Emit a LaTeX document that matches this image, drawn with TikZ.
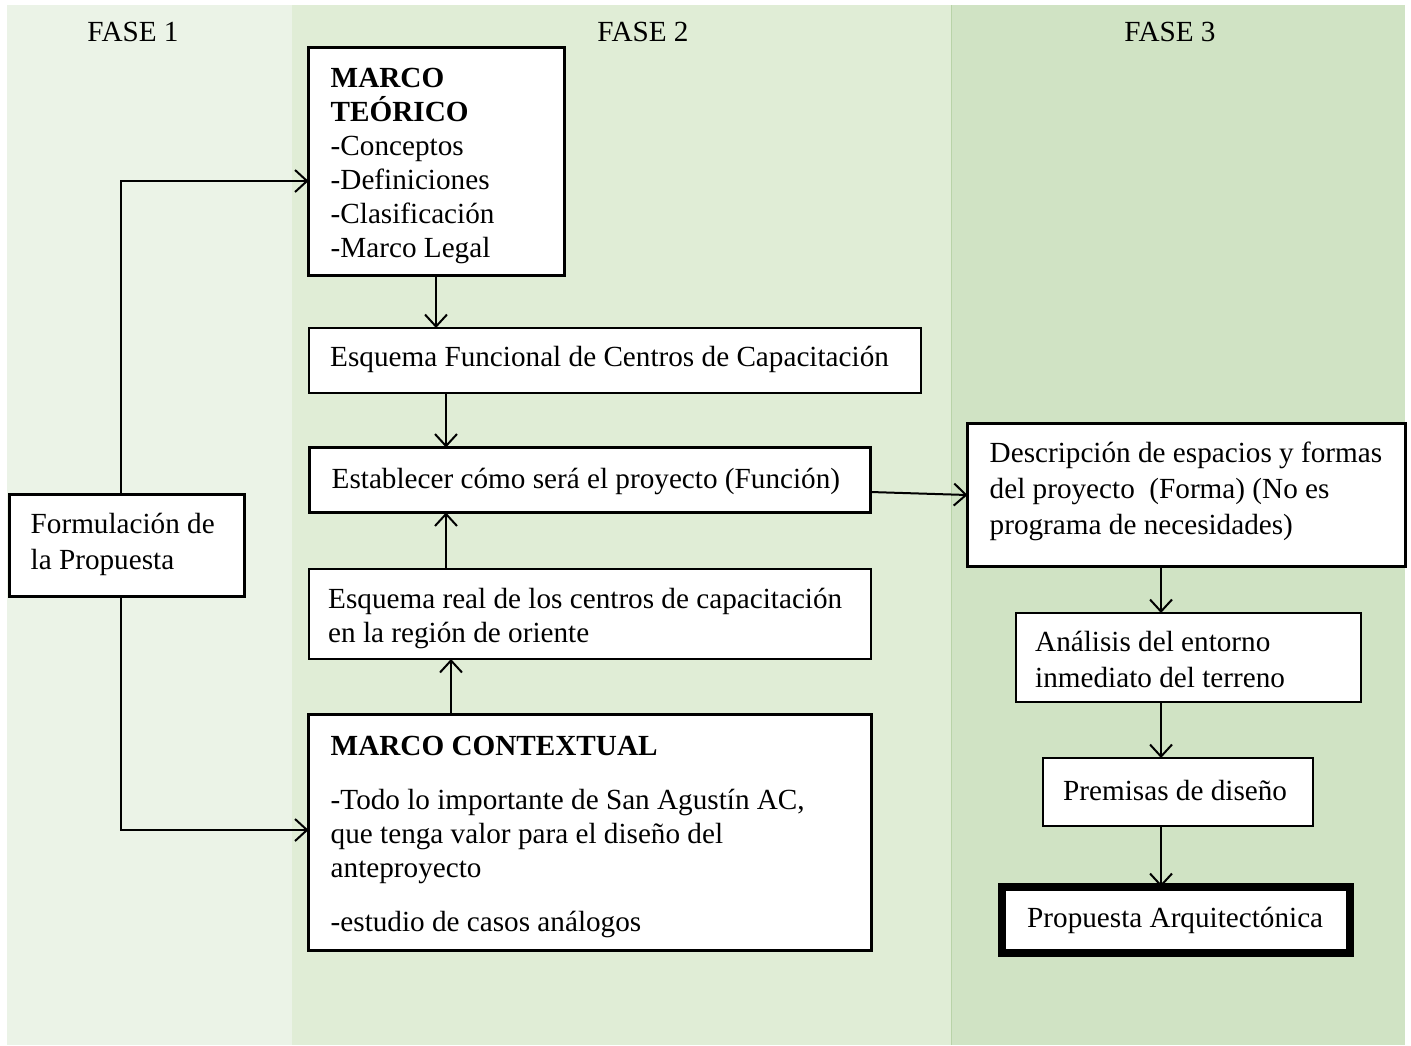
\documentclass[tikz,border=0pt]{standalone}
\usepackage{fontspec}
\setmainfont{Liberation Serif}
\usetikzlibrary{arrows.meta}
\definecolor{phaseA}{RGB}{235,243,231}
\definecolor{phaseB}{RGB}{224,237,214}
\definecolor{phaseC}{RGB}{208,227,196}
\definecolor{phaseEdge}{RGB}{184,211,168}
\begin{document}
\begin{tikzpicture}[x=1pt,y=-1pt,
  frame/.style={draw=black, fill=white, outer sep=0pt, inner sep=0pt},
  thinbox/.style={frame, line width=1.5pt},
  boldbox/.style={frame, line width=3pt},
  heavybox/.style={frame, line width=7.5pt},
  txt/.style={font=\fontsize{29.2}{34}\selectfont, inner sep=0pt, anchor=west, align=left},
  loose/.style={font=\fontsize{29.2}{36}\selectfont},
  phase/.style={font=\fontsize{29.2}{34}\selectfont, inner sep=0pt},
  arr/.style={line width=2pt, -{Straight Barb[length=12pt,width=22pt,line width=2pt]}}
]
\useasboundingbox (0,0) rectangle (1411,1045);

% phase columns
\fill[phaseA] (7,5) rectangle (292,1045);
\fill[phaseB] (292,5) rectangle (951,1045);
\fill[phaseC] (951,5) rectangle (1405,1045);
\draw[phaseEdge, line width=1pt] (951.5,5) -- (951.5,1045);

\node[phase] (f1) at (133,32) {FASE 1};
\node[phase] (f2) at (643,32) {FASE 2};
\node[phase] (f3) at (1170,32) {FASE 3};

% boxes
\node[boldbox, minimum width=256pt, minimum height=228pt] (mt) at (436.5,161.5) {};
\node[thinbox, minimum width=612pt, minimum height=65pt] (ef) at (615,360.5) {};
\node[boldbox, minimum width=561pt, minimum height=65pt] (est) at (590,480) {};
\node[thinbox, minimum width=562pt, minimum height=90pt] (er) at (590,614) {};
\node[boldbox, minimum width=563pt, minimum height=236pt] (mc) at (590,832.5) {};
\node[boldbox, minimum width=235pt, minimum height=102pt] (form) at (127,545.5) {};
\node[boldbox, minimum width=438pt, minimum height=143pt] (desc) at (1186.5,495) {};
\node[thinbox, minimum width=345pt, minimum height=89pt] (an) at (1188.5,657.5) {};
\node[thinbox, minimum width=270pt, minimum height=68pt] (pr) at (1178,792) {};
\node[heavybox, minimum width=348pt, minimum height=66pt] (prop) at (1176,920) {};

% texts
\node[txt] (mt-t) at ([xshift=22pt,yshift=-4pt]mt.west) {\textbf{MARCO}\\\textbf{TEÓRICO}\\-Conceptos\\-Definiciones\\-Clasificación\\-Marco Legal};
\node[txt] (ef-t) at ([xshift=21pt,yshift=1pt]ef.west) {Esquema Funcional de Centros de Capacitación};
\node[txt] (est-t) at ([xshift=22pt,yshift=-1pt]est.west) {Establecer cómo será el proyecto (Función)};
\node[txt] (er-t) at ([xshift=19pt,yshift=-4pt]er.west) {Esquema real de los centros de capacitación\\en la región de oriente};
\node[txt] (mc-t) at ([xshift=22pt,yshift=-4pt]mc.west) {\textbf{MARCO CONTEXTUAL}\\[20pt]-Todo lo importante de San Agustín AC,\\que tenga valor para el diseño del\\anteproyecto\\[20pt]-estudio de casos análogos};
\node[txt, loose] (form-t) at ([xshift=21pt,yshift=1pt]form.west) {Formulación de\\la Propuesta};
\node[txt, loose] (desc-t) at ([xshift=22pt,yshift=4pt]desc.west) {Descripción de espacios y formas\\del proyecto~~(Forma) (No es\\programa de necesidades)};
\node[txt, loose] (an-t) at ([xshift=19pt,yshift=-2pt]an.west) {Análisis del entorno\\inmediato del terreno};
\node[txt] (pr-t) at ([xshift=20pt,yshift=2pt]pr.west) {Premisas de diseño};
\node[txt] (prop-t) at ([xshift=25pt,yshift=0pt]prop.west) {Propuesta Arquitectónica};

% connectors
\coordinate (k1) at (121,181);
\coordinate (k2) at (121,830);
\coordinate (k3) at (436,0);
\coordinate (k4) at (446,0);
\coordinate (k5) at (451,0);
\coordinate (k6) at (1161,0);
\draw[arr] (form.north -| k1) |- (mt.west |- k1);
\draw[arr] (form.south -| k2) |- (mc.west |- k2);
\draw[arr] (mt.south -| k3) -- (ef.north -| k3);
\draw[arr] (ef.south -| k4) -- (est.north -| k4);
\draw[arr] (er.north -| k4) -- (est.south -| k4);
\draw[arr] (mc.north -| k5) -- (er.south -| k5);
\draw[arr] ([yshift=-12pt]est.east) -- (desc.west);
\draw[arr] (desc.south -| k6) -- (an.north -| k6);
\draw[arr] (an.south -| k6) -- (pr.north -| k6);
\draw[arr] (pr.south -| k6) -- (prop.north -| k6);
\end{tikzpicture}
\end{document}
